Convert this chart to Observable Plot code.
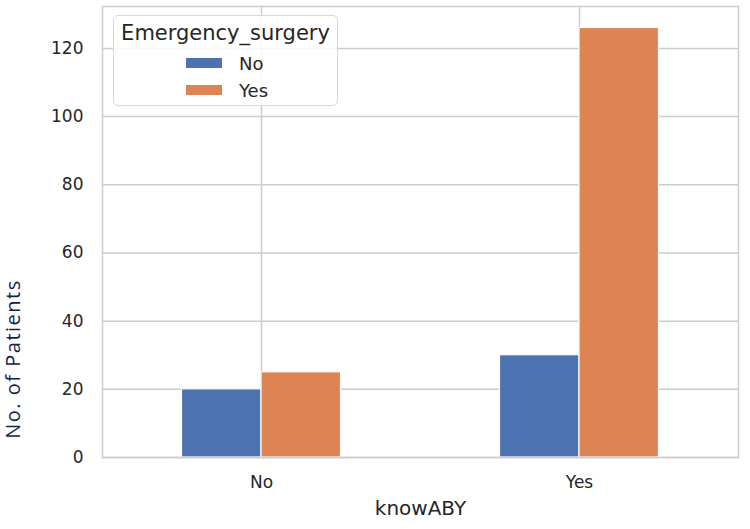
<!DOCTYPE html>
<html>
<head>
<meta charset="utf-8">
<script src="https://cdn.jsdelivr.net/npm/d3@7"></script>
<script src="https://cdn.jsdelivr.net/npm/@observablehq/plot@0.6"></script>
<style>
  html, body { margin: 0; padding: 0; background: #fff; }
  #wrap { position: relative; width: 750px; height: 529px; overflow: hidden; }
  #legend {
    position: absolute; left: 113px; top: 15px; width: 225px; height: 91px;
    border: 1px solid #d8d8d8; border-radius: 5px; background: rgba(255,255,255,0.85);
    font-family: "DejaVu Sans", sans-serif; color: #262626; box-sizing: border-box;
  }
  #legend .title { position: absolute; left: 0; right: 0; top: 5px; text-align: center; font-size: 21px; }
  #legend .row { position: absolute; left: 72px; height: 24px; display: flex; align-items: center; font-size: 18px; }
  #legend .sw { width: 36px; height: 10px; margin-right: 17px; }
  #ylab {
    position: absolute; left: 13px; top: 359px; transform: translate(-50%, -50%) rotate(-90deg);
    white-space: nowrap; font-family: "Open Sans", sans-serif; font-size: 20px; letter-spacing: 1.5px;
    line-height: 20px; color: #12234a;
  }
</style>
</head>
<body>
<div id="wrap"></div>
<script>
// Data
const knowABY = ["No", "Yes"];                 // x categories
const emergencySurgery = ["No", "Yes"];         // series
const countsEmergencyNo = [20, 30];             // Emergency_surgery = No
const countsEmergencyYes = [25, 126];           // Emergency_surgery = Yes
const yTicks = [0, 20, 40, 60, 80, 100, 120];
const colors = ["#4c72b0", "#dd8452"];

const seriesValues = [countsEmergencyNo, countsEmergencyYes];
const barWidth = 0.5 / emergencySurgery.length;
const rows = [];
knowABY.forEach((k, i) => {
  emergencySurgery.forEach((s, j) => {
    const x1 = i - 0.25 + j * barWidth;
    rows.push({knowABY: k, series: s, x1, x2: x1 + barWidth, value: seriesValues[j][i]});
  });
});

const plot = Plot.plot({
  width: 750,
  height: 529,
  marginLeft: 102,
  marginRight: 12,
  marginTop: 6,
  marginBottom: 72,
  style: {fontFamily: "DejaVu Sans, sans-serif", fontSize: "17px", color: "#262626", background: "#fff"},
  x: {domain: [-0.5, 1.5]},
  y: {domain: [0, 126 * 1.05]},
  color: {domain: emergencySurgery, range: colors},
  marks: [
    Plot.gridX([0, 1], {stroke: "#cccccc", strokeOpacity: 1, strokeWidth: 1.5}),
    Plot.gridY(yTicks, {stroke: "#cccccc", strokeOpacity: 1, strokeWidth: 1.5}),
    Plot.rectY(rows, {x1: "x1", x2: "x2", y: "value", fill: "series", stroke: "white", strokeWidth: 1.2}),
    Plot.frame({stroke: "#cccccc", strokeWidth: 1.5}),
    Plot.axisY(yTicks, {tickSize: 0, tickPadding: 19, label: null, fill: "#262626"}),
    Plot.axisX([0, 1], {tickSize: 0, tickPadding: 18, label: null, tickFormat: i => knowABY[i], fill: "#262626"}),
    Plot.text(["knowABY"], {frameAnchor: "bottom", dy: 57, fontSize: 20, fill: "#262626"})
  ]
});

const wrap = document.getElementById("wrap");
wrap.appendChild(plot);

const ylab = document.createElement("div");
ylab.id = "ylab";
ylab.textContent = "No. of Patients";
wrap.appendChild(ylab);

const legend = document.createElement("div");
legend.id = "legend";
legend.innerHTML = `<div class="title">Emergency_surgery</div>`;
emergencySurgery.forEach((s, j) => {
  const row = document.createElement("div");
  row.className = "row";
  row.style.top = (35 + j * 27) + "px";
  row.innerHTML = `<span class="sw" style="background:${colors[j]}"></span><span>${s}</span>`;
  legend.appendChild(row);
});
wrap.appendChild(legend);
</script>
</body>
</html>
